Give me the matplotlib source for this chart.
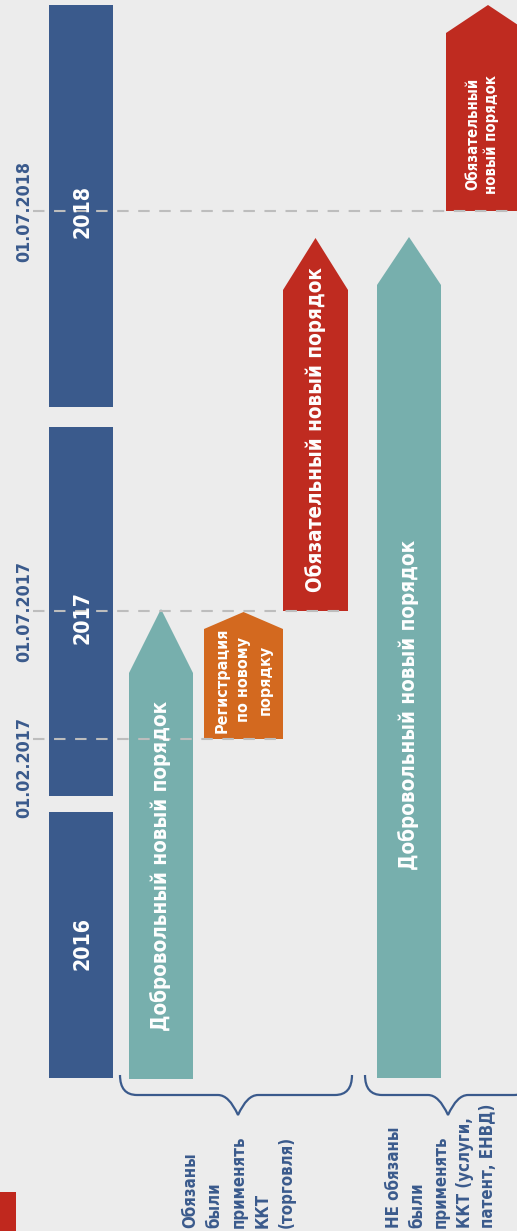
import matplotlib.pyplot as plt
from matplotlib import font_manager
from matplotlib.patches import Polygon, Rectangle, PathPatch
from matplotlib.path import Path

# timeline positions (schematic, bottom of picture = 0, later = higher)
year_labels = ['2016', '2017', '2018']
year_start = [153, 435, 824]
year_end = [419, 804, 1226]

date_labels = ['01.02.2017', '01.07.2017', '01.07.2018']
date_pos = [492, 620, 1020]

# periods shown as arrows
period_text = ['Добровольный новый порядок',
               'Регистрация\nпо новому\nпорядку',
               'Обязательный новый порядок',
               'Добровольный новый порядок',
               'Обязательный\nновый порядок']
period_start = [152, 492, 620, 153, 1020]
period_end = [622, 619, 993, 994, 1226]
period_kind = ['vol', 'reg', 'mand', 'vol', 'mand']

group_text = ['Обязаны\nбыли\nприменять\nККТ\n(торговля)',
              'НЕ обязаны\nбыли\nприменять\nККТ (услуги,\nпатент, ЕНВД)']

# layout
BG = '#ececec'
BLUE = '#3a5a8c'
colors = {'vol': '#77afad', 'reg': '#d3691f', 'mand': '#bf2b20'}
year_off = [2, -6, -6]
lane_x = [161, 243.5, 315.5, 409, 488]
lane_hw = [32, 39.5, 32.5, 32, 42]
head = [64, 17, 52, 48, 28]
text_x = [161, 243.5, 315.5, 409, 482]
text_y = [365, 551, 801, 526, 1097]
text_fs = [20.3, 15.8, 20.3, 20.3, 14.7]
text_ls = [1.2, 1.55, 1.2, 1.2, 1.25]

names = {f.name for f in font_manager.fontManager.ttflist}
if 'Liberation Sans Narrow' in names:
    FONT, STRETCH, k = 'Liberation Sans Narrow', 'normal', 1.0
elif any('DejaVuSansCondensed' in f.fname for f in font_manager.fontManager.ttflist):
    FONT, STRETCH, k = 'DejaVu Sans', 'condensed', 0.73
else:
    FONT, STRETCH, k = 'DejaVu Sans', 'normal', 0.66
plt.rcParams['font.family'] = FONT
plt.rcParams['font.stretch'] = STRETCH

fig = plt.figure(figsize=(5.17, 12.31), dpi=100, facecolor=BG)
ax = fig.add_axes([0, 0, 1, 1])
ax.set_xlim(0, 517)
ax.set_ylim(0, 1231)
ax.axis('off')

# year bars
for lab, s, e, off in zip(year_labels, year_start, year_end, year_off):
    ax.add_patch(Rectangle((49, s), 64, e - s, color=BLUE, lw=0, zorder=2))
    ax.text(82, (s + e) / 2 + off, lab, color='white', rotation=90, ha='center',
            va='center', fontsize=21 * k, fontweight='bold', zorder=4)

# arrows
for i in range(len(period_text)):
    xc, hw = lane_x[i], lane_hw[i]
    s, e = period_start[i], period_end[i]
    pts = [(xc - hw, s), (xc - hw, e - head[i]), (xc, e),
           (xc + hw, e - head[i]), (xc + hw, s)]
    ax.add_patch(Polygon(pts, closed=True, color=colors[period_kind[i]], lw=0, zorder=2))
    ax.text(text_x[i], text_y[i], period_text[i], color='white', rotation=90,
            ha='center', va='center', multialignment='center',
            fontsize=text_fs[i] * k, fontweight='bold', linespacing=text_ls[i], zorder=4)

# dashed date lines
line_end = [283, 348, 517]
label_y = [date_pos[0] - 28, date_pos[1], date_pos[2]]
for lab, y, x1, ly in zip(date_labels, date_pos, line_end, label_y):
    ax.plot([33, x1], [y, y], color='#bdbdbd', lw=1.5, ls=(0, (5.5, 4.6)), zorder=3)
    ax.text(24, ly, lab, color=BLUE, rotation=90, ha='center', va='center',
            fontsize=17.5 * k, fontweight='bold')


def brace(x0, x1, xm, ytop, ymid, ytip):
    r = 17
    verts = [(x0, ytop), (x0, ymid), (x0 + r, ymid), (xm - 20, ymid),
             (xm - 9, ymid), (xm, ytip), (xm + 9, ymid), (xm + 20, ymid),
             (x1 - r, ymid), (x1, ymid), (x1, ytop)]
    codes = [Path.MOVETO, Path.CURVE3, Path.CURVE3, Path.LINETO,
             Path.CURVE3, Path.CURVE3, Path.CURVE3, Path.CURVE3,
             Path.LINETO, Path.CURVE3, Path.CURVE3]
    ax.add_patch(PathPatch(Path(verts, codes), fc='none', ec=BLUE, lw=1.6, zorder=3))


brace(120, 352, 238, 156, 136, 116)
brace(365, 531, 448, 156, 136, 116)

ax.text(181, 3, group_text[0], color=BLUE, rotation=90, ha='left', va='bottom',
        multialignment='left', fontsize=16.5 * k, fontweight='bold', linespacing=1.45)
ax.text(385, 3, group_text[1], color=BLUE, rotation=90, ha='left', va='bottom',
        multialignment='left', fontsize=16.5 * k, fontweight='bold', linespacing=1.4)

ax.add_patch(Rectangle((0, 0), 16, 39, color='#c0281e', lw=0))

fig.savefig('out.png', dpi=100, facecolor=BG)
